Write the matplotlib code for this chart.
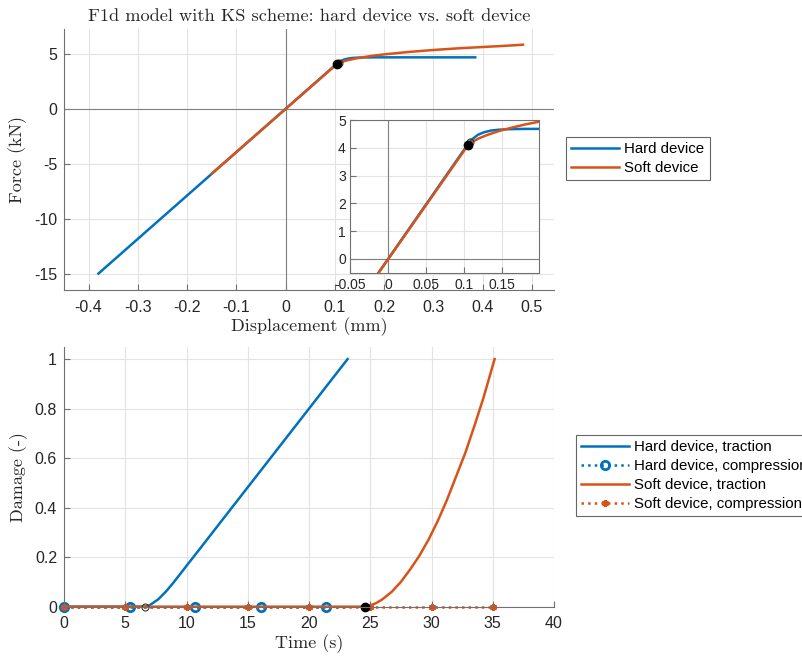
import matplotlib
matplotlib.use("Agg")
import matplotlib.pyplot as plt
from matplotlib.ticker import FuncFormatter

BLUE = "#0072BD"
ORANGE = "#D95319"
AXC = "#707070"
TXT = "#262626"
GRID = "#e3e3e3"

plt.rcParams["axes.unicode_minus"] = False
plt.rcParams["font.family"] = ["Liberation Sans", "DejaVu Sans"]

# ── force / displacement ──
disp_hard = [-0.38, 0.104, 0.110, 0.118, 0.126, 0.135, 0.145, 0.160, 0.180, 0.200, 0.385]
force_hard = [-15.0, 4.10, 4.30, 4.47, 4.56, 4.62, 4.65, 4.67, 4.68, 4.68, 4.68]
disp_soft = [-0.15, 0.105, 0.112, 0.120, 0.130, 0.145, 0.160, 0.180, 0.200,
             0.250, 0.300, 0.350, 0.400, 0.450, 0.482]
force_soft = [-5.9, 4.10, 4.24, 4.35, 4.46, 4.60, 4.71, 4.84, 4.95,
              5.17, 5.35, 5.50, 5.62, 5.74, 5.83]
onset_hard_fd = (0.108, 4.20)
onset_soft_fd = (0.105, 4.10)

# ── damage / time ──
t_hard_trac = [0, 6.6, 7.0, 7.7, 8.3, 8.9, 9.5, 10.0, 11.0, 12.65, 23.15]
d_hard_trac = [0, 0, 0.006, 0.030, 0.060, 0.095, 0.133, 0.165, 0.228, 0.333, 1.0]
t_hard_comp = [0, 5.35, 10.7, 16.05, 21.4, 23.15]
d_hard_comp = [0, 0, 0, 0, 0, 0]
t_soft_trac = [0, 24.6, 25.0, 25.5, 26.0, 26.75, 27.5, 28.25, 29.0, 29.75,
               30.5, 31.25, 32.0, 32.75, 33.5, 34.25, 35.15]
d_soft_trac = [0, 0, 0.005, 0.015, 0.030, 0.060, 0.100, 0.150, 0.205, 0.270,
               0.345, 0.430, 0.525, 0.620, 0.730, 0.845, 1.0]
t_soft_comp = [0, 5, 10, 15, 20, 25, 30, 35]
d_soft_comp = [0, 0, 0, 0, 0, 0, 0, 0]
onset_hard_t = 6.6
onset_soft_t = 24.6

SERIF = "cmr10"
fmt = FuncFormatter(lambda v, p: f"{v:g}")


def style(ax, box=False, size=11.5):
    ax.grid(True, color=GRID, linewidth=0.8)
    ax.set_axisbelow(True)
    for s in ["left", "bottom", "top", "right"]:
        ax.spines[s].set_color(AXC)
        ax.spines[s].set_linewidth(0.8)
    if not box:
        ax.spines["top"].set_visible(False)
        ax.spines["right"].set_visible(False)
    ax.tick_params(direction="in", length=4, width=0.8, color=AXC,
                   labelcolor=TXT, labelsize=size)
    ax.tick_params(axis="x", pad=7)
    ax.tick_params(axis="y", pad=5)
    ax.xaxis.set_major_formatter(fmt)
    ax.yaxis.set_major_formatter(fmt)


def legend(handles, anchor):
    lg = fig.legend(handles=handles, loc="upper left", bbox_to_anchor=anchor,
                    fontsize=10.8, frameon=True, fancybox=False, edgecolor="#666666",
                    framealpha=1, borderaxespad=0, borderpad=0.35, handlelength=3.2,
                    handletextpad=0.35, labelspacing=0.33, numpoints=1)
    lg.get_frame().set_linewidth(0.8)
    return lg


fig = plt.figure(figsize=(8.02, 6.59), dpi=100)

# top: force vs displacement
ax1 = fig.add_axes([0.0798, 0.5599, 0.611, 0.3956])
style(ax1)
ax1.axhline(0, color="#808080", linewidth=0.8, zorder=1)
ax1.axvline(0, color="#808080", linewidth=0.8, zorder=1)
h1, = ax1.plot(disp_hard, force_hard, color=BLUE, lw=1.8, label="Hard device")
h2, = ax1.plot(disp_soft, force_soft, color=ORANGE, lw=1.8, label="Soft device")
ax1.plot(*onset_hard_fd, "o", mfc="none", mec="#333333", ms=5, mew=0.8)
ax1.plot(*onset_soft_fd, "o", color="black", ms=6)
ax1.set_xlim(-0.45, 0.545)
ax1.set_ylim(-16.5, 7.23)
ax1.set_xticks([-0.4, -0.3, -0.2, -0.1, 0, 0.1, 0.2, 0.3, 0.4, 0.5])
ax1.set_yticks([-15, -10, -5, 0, 5])
ax1.set_xlabel("Displacement (mm)", family=SERIF, fontsize=13, color=TXT, labelpad=2)
ax1.set_ylabel("Force (kN)", family=SERIF, fontsize=13, color=TXT, labelpad=5)
ax1.set_title("F1d model with KS scheme: hard device vs. soft device",
              family=SERIF, fontsize=13.2, color=TXT, pad=6)
legend([h1, h2], (0.7057, 0.7921))

# inset
axi = fig.add_axes([0.4364, 0.5862, 0.2357, 0.2317])
style(axi, box=True, size=10)
axi.set_facecolor("white")
axi.tick_params(axis="x", pad=4)
axi.tick_params(axis="y", pad=3)
axi.axhline(0, color="#808080", linewidth=0.8, zorder=1)
axi.axvline(0, color="#808080", linewidth=0.8, zorder=1)
axi.plot(disp_hard, force_hard, color=BLUE, lw=1.8)
axi.plot(disp_soft, force_soft, color=ORANGE, lw=1.8)
axi.plot(*onset_hard_fd, "o", mfc="none", mec="#333333", ms=5, mew=0.8)
axi.plot(*onset_soft_fd, "o", color="black", ms=6)
axi.set_xlim(-0.05, 0.198)
axi.set_ylim(-0.5, 5)
axi.set_xticks([-0.05, 0, 0.05, 0.1, 0.15])
axi.set_yticks([0, 1, 2, 3, 4, 5])

# bottom: damage vs time
ax2 = fig.add_axes([0.0798, 0.0794, 0.611, 0.3945])
style(ax2)
l1, = ax2.plot(t_hard_trac, d_hard_trac, color=BLUE, lw=1.8,
               label="Hard device, traction", clip_on=False)
l2, = ax2.plot(t_hard_comp, d_hard_comp, color=BLUE, lw=1.8, ls=":",
               marker="o", mfc="none", mew=2, ms=6, markevery=[0, 1, 2, 3, 4],
               label="Hard device, compression", clip_on=False)
l3, = ax2.plot(t_soft_trac, d_soft_trac, color=ORANGE, lw=1.8,
               label="Soft device, traction", clip_on=False)
l4, = ax2.plot(t_soft_comp, d_soft_comp, color=ORANGE, lw=1.8, ls=":",
               marker=(6, 2, 0), ms=5, mew=1.5,
               label="Soft device, compression", clip_on=False)
ax2.plot(onset_hard_t, 0, "o", mfc="none", mec="#333333", ms=5, mew=0.8, clip_on=False)
ax2.plot(onset_soft_t, 0, "o", color="black", ms=6, clip_on=False)
ax2.set_xlim(0, 40)
ax2.set_ylim(0, 1.05)
ax2.set_xticks(range(0, 41, 5))
ax2.set_yticks([0, 0.2, 0.4, 0.6, 0.8, 1])
ax2.set_xlabel("Time (s)", family=SERIF, fontsize=13, color=TXT, labelpad=2)
ax2.set_ylabel("Damage (-)", family=SERIF, fontsize=13, color=TXT, labelpad=5)
legend([l1, l2, l3, l4], (0.7182, 0.3399))

fig.savefig("out.png", dpi=100)
